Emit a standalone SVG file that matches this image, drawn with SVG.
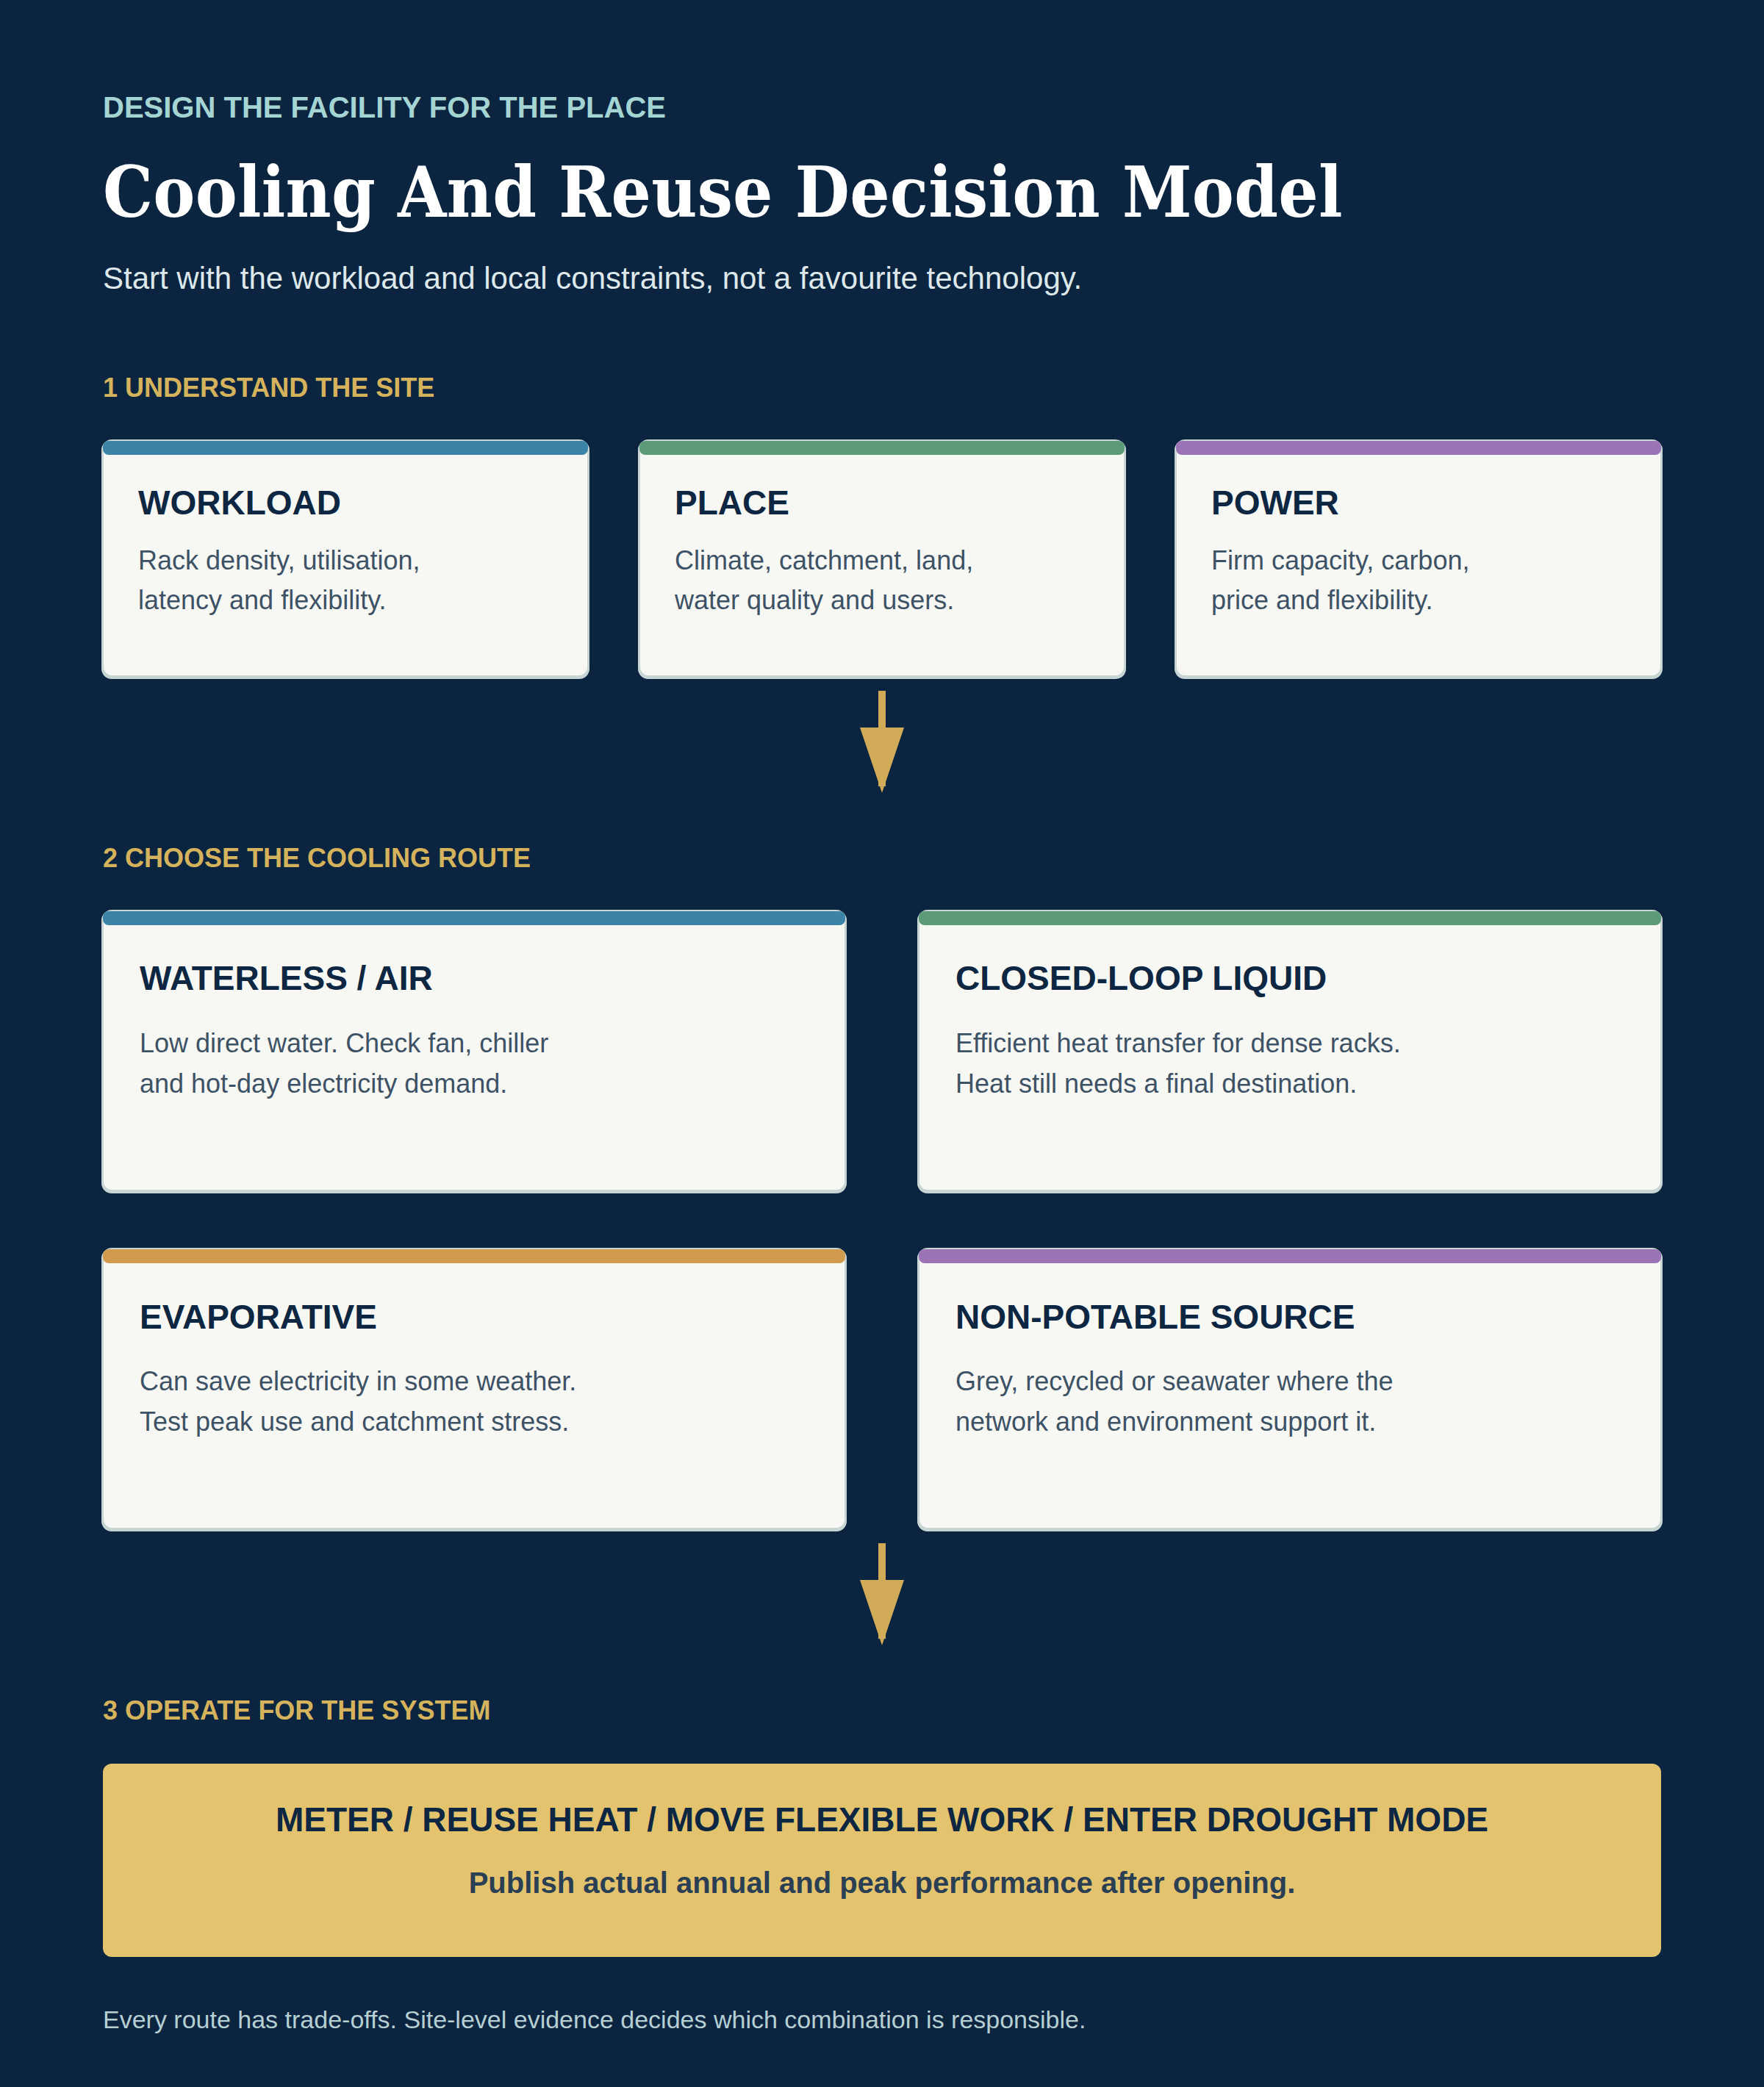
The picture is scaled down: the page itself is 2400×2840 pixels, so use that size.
<svg xmlns="http://www.w3.org/2000/svg" width="2400" height="2840" viewBox="0 0 2400 2840">
  <defs>
    <style>
      .eyebrow { font-family: "Liberation Sans", Arial, sans-serif; font-weight: 700; font-size: 40px; fill: #a5d5d3; }
      .title { font-family: "DejaVu Serif Condensed", "DejaVu Serif", Georgia, serif; font-stretch: condensed; font-weight: 700; font-size: 95px; letter-spacing: 0.3px; fill: #ffffff; }
      .subtitle { font-family: "Liberation Sans", Arial, sans-serif; font-size: 42px; fill: #dde8ea; }
      .section { font-family: "Liberation Sans", Arial, sans-serif; font-weight: 700; font-size: 36px; fill: #d4b35c; }
      .card-shadow { fill: #c8d5d5; }
      .card-bg { fill: #f7f8f4; stroke: #c8d5d5; stroke-width: 3; }
      .card-title { font-family: "Liberation Sans", Arial, sans-serif; font-weight: 700; font-size: 46px; fill: #0d2642; }
      .card-body { font-family: "Liberation Sans", Arial, sans-serif; font-size: 36px; fill: #3e5266; }
      .band-blue { fill: #3b84a8; }
      .band-green { fill: #5c9a78; }
      .band-purple { fill: #9b74b5; }
      .band-gold { fill: #d09b4c; }
      .op-box { fill: #e3c36d; }
      .op-title { font-family: "Liberation Sans", Arial, sans-serif; font-weight: 700; font-size: 46px; fill: #0d2642; text-anchor: middle; }
      .op-sub { font-family: "Liberation Sans", Arial, sans-serif; font-weight: 700; font-size: 40px; fill: #2a3e54; text-anchor: middle; }
      .footer { font-family: "Liberation Sans", Arial, sans-serif; font-size: 34px; fill: #b5cfd2; }
      .flow { stroke: #d1ab57; stroke-width: 10; fill: none; }
    </style>
    <marker id="arrowhead" viewBox="0 0 89 60" markerUnits="userSpaceOnUse" markerWidth="89" markerHeight="60" refX="80" refY="30" orient="auto">
      <path d="M0,0 L89,30 L0,60 Z" fill="#d1ab57"/>
    </marker>
  </defs>

  <rect x="0" y="0" width="2400" height="2840" fill="#0b2440"/>

  <g id="header">
    <text class="eyebrow" x="140" y="160">DESIGN THE FACILITY FOR THE PLACE</text>
    <text class="title" x="140" y="295">Cooling And Reuse Decision Model</text>
    <text class="subtitle" x="140" y="393">Start with the workload and local constraints, not a favourite technology.</text>
  </g>

  <g id="section-1-label">
    <text class="section" x="140" y="540">1 UNDERSTAND THE SITE</text>
  </g>

  <g id="node-workload">
    <rect class="card-shadow" x="138" y="600" width="664" height="324" rx="14"/>
    <rect class="card-bg" x="139.5" y="599.5" width="661" height="321" rx="13"/>
    <rect class="band-blue" x="140" y="600" width="660" height="19" rx="8"/>
    <text class="card-title" x="188" y="700">WORKLOAD</text>
    <text class="card-body" x="188" y="775">Rack density, utilisation,</text>
    <text class="card-body" x="188" y="829">latency and flexibility.</text>
  </g>

  <g id="node-place">
    <rect class="card-shadow" x="868" y="600" width="664" height="324" rx="14"/>
    <rect class="card-bg" x="869.5" y="599.5" width="661" height="321" rx="13"/>
    <rect class="band-green" x="870" y="600" width="660" height="19" rx="8"/>
    <text class="card-title" x="918" y="700">PLACE</text>
    <text class="card-body" x="918" y="775">Climate, catchment, land,</text>
    <text class="card-body" x="918" y="829">water quality and users.</text>
  </g>

  <g id="node-power">
    <rect class="card-shadow" x="1598" y="600" width="664" height="324" rx="14"/>
    <rect class="card-bg" x="1599.5" y="599.5" width="661" height="321" rx="13"/>
    <rect class="band-purple" x="1600" y="600" width="660" height="19" rx="8"/>
    <text class="card-title" x="1648" y="700">POWER</text>
    <text class="card-body" x="1648" y="775">Firm capacity, carbon,</text>
    <text class="card-body" x="1648" y="829">price and flexibility.</text>
  </g>

  <g id="section-2-label">
    <text class="section" x="140" y="1180">2 CHOOSE THE COOLING ROUTE</text>
  </g>

  <g id="node-waterless">
    <rect class="card-shadow" x="138" y="1240" width="1014" height="384" rx="14"/>
    <rect class="card-bg" x="139.5" y="1239.5" width="1011" height="381" rx="13"/>
    <rect class="band-blue" x="140" y="1240" width="1010" height="19" rx="8"/>
    <text class="card-title" x="190" y="1347">WATERLESS / AIR</text>
    <text class="card-body" x="190" y="1432">Low direct water. Check fan, chiller</text>
    <text class="card-body" x="190" y="1487">and hot-day electricity demand.</text>
  </g>

  <g id="node-closed-loop">
    <rect class="card-shadow" x="1248" y="1240" width="1014" height="384" rx="14"/>
    <rect class="card-bg" x="1249.5" y="1239.5" width="1011" height="381" rx="13"/>
    <rect class="band-green" x="1250" y="1240" width="1010" height="19" rx="8"/>
    <text class="card-title" x="1300" y="1347">CLOSED-LOOP LIQUID</text>
    <text class="card-body" x="1300" y="1432">Efficient heat transfer for dense racks.</text>
    <text class="card-body" x="1300" y="1487">Heat still needs a final destination.</text>
  </g>

  <g id="node-evaporative">
    <rect class="card-shadow" x="138" y="1700" width="1014" height="384" rx="14"/>
    <rect class="card-bg" x="139.5" y="1699.5" width="1011" height="381" rx="13"/>
    <rect class="band-gold" x="140" y="1700" width="1010" height="19" rx="8"/>
    <text class="card-title" x="190" y="1808">EVAPORATIVE</text>
    <text class="card-body" x="190" y="1892">Can save electricity in some weather.</text>
    <text class="card-body" x="190" y="1947">Test peak use and catchment stress.</text>
  </g>

  <g id="node-non-potable">
    <rect class="card-shadow" x="1248" y="1700" width="1014" height="384" rx="14"/>
    <rect class="card-bg" x="1249.5" y="1699.5" width="1011" height="381" rx="13"/>
    <rect class="band-purple" x="1250" y="1700" width="1010" height="19" rx="8"/>
    <text class="card-title" x="1300" y="1808">NON-POTABLE SOURCE</text>
    <text class="card-body" x="1300" y="1892">Grey, recycled or seawater where the</text>
    <text class="card-body" x="1300" y="1947">network and environment support it.</text>
  </g>

  <g id="section-3-label">
    <text class="section" x="140" y="2340">3 OPERATE FOR THE SYSTEM</text>
  </g>

  <g id="node-operate">
    <rect class="op-box" x="140" y="2400" width="2120" height="263" rx="12"/>
    <text class="op-title" x="1200" y="2492">METER / REUSE HEAT / MOVE FLEXIBLE WORK / ENTER DROUGHT MODE</text>
    <text class="op-sub" x="1200" y="2576">Publish actual annual and peak performance after opening.</text>
  </g>

  <g id="connectors">
    <line class="flow" x1="1200" y1="940" x2="1200" y2="1070" marker-end="url(#arrowhead)"/>
    <line class="flow" x1="1200" y1="2100" x2="1200" y2="2230" marker-end="url(#arrowhead)"/>
  </g>

  <g id="footer">
    <text class="footer" x="140" y="2760">Every route has trade-offs. Site-level evidence decides which combination is responsible.</text>
  </g>
</svg>
